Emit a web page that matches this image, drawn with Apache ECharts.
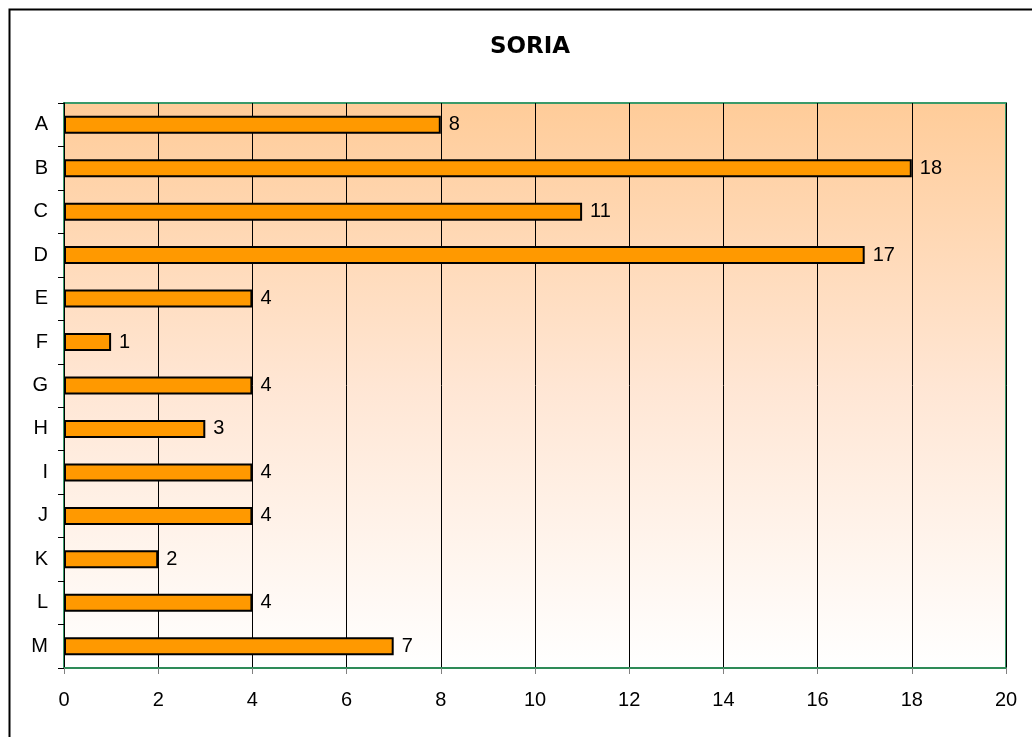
<!DOCTYPE html>
<html>
<head>
<meta charset="utf-8">
<script src="https://cdn.jsdelivr.net/npm/echarts@6/dist/echarts.min.js"></script>
<style>html,body{margin:0;padding:0;background:#fff;}#main{width:1032px;height:737px;}</style>
</head>
<body>
<div id="main"></div>
<script>
const categories = ['A','B','C','D','E','F','G','H','I','J','K','L','M'];
const values = [8,18,11,17,4,1,4,3,4,4,2,4,7];
const xTicks = {min:0, max:20, interval:2};
const titleText = 'SORIA';

const chart = echarts.init(document.getElementById('main'), null, {renderer:'canvas'});
const font = 'Liberation Sans';
chart.setOption({
  animation:false,
  backgroundColor:'#fff',
  title:{text:titleText, left:525, top:31, textAlign:'center',
    textStyle:{fontFamily:'DejaVu Sans', fontWeight:'bold', fontSize:23, color:'#000'}},
  graphic:[{type:'rect', left:7, top:7, shape:{width:1100, height:800},
    style:{fill:null, stroke:'#000', lineWidth:2}, z:-1}],
  grid:{left:64, top:103, right:26, bottom:69, show:true, borderColor:'#3a9a6a', borderWidth:2,
    backgroundColor:new echarts.graphic.LinearGradient(0,0,0,1,[
      {offset:0,color:'#ffcc99'},{offset:0.5,color:'#ffe6d4'},{offset:1,color:'#ffffff'}])},
  xAxis:{type:'value', min:xTicks.min, max:xTicks.max, interval:xTicks.interval,
    axisLine:{show:true, lineStyle:{color:'#2e8b57', width:2}},
    axisTick:{show:true, length:6, lineStyle:{color:'#808080'}},
    axisLabel:{fontFamily:font, fontSize:20, color:'#000', margin:22},
    splitLine:{show:true, lineStyle:{color:'#000', width:1}}},
  yAxis:{type:'category', data:categories, inverse:true,
    axisLine:{show:true, lineStyle:{color:'#000', width:1}},
    axisTick:{show:true, length:6, lineStyle:{color:'#000'}},
    axisLabel:{fontFamily:font, fontSize:20, color:'#000', margin:16}},
  series:[{type:'bar', data:values, barWidth:18,
    itemStyle:{color:'#ff9900', borderColor:'#000', borderWidth:2},
    label:{show:true, position:'right', distance:8, fontFamily:font, fontSize:20, color:'#000'}}]
});
</script>
</body>
</html>
